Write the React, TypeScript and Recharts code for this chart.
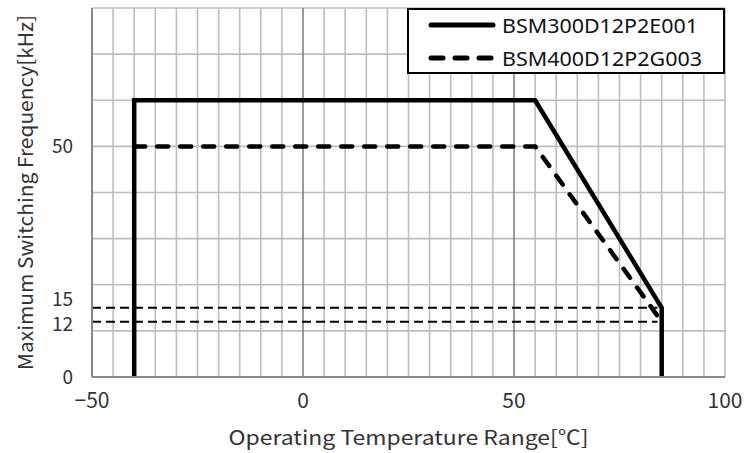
import React from "react";
import { LineChart, Line, XAxis, YAxis, ReferenceLine } from "recharts";

const series1Name = "BSM300D12P2E001";
const series2Name = "BSM400D12P2G003";

const series1 = [
  { x: -40, y: 0 },
  { x: -40, y: 60 },
  { x: 55, y: 60 },
  { x: 85, y: 15 },
  { x: 85, y: 0 },
];

const series2 = [
  { x: -40, y: 50 },
  { x: 55, y: 50 },
  { x: 85, y: 12 },
];

const xTicks = [-50, 0, 50, 100];
const yTicks = [0, 12, 15, 50];
const minorGridX = [-45, -40, -35, -30, -25, -20, -15, -10, -5, 5, 10, 15, 20, 25, 30, 35, 40, 45, 55, 60, 65, 70, 75, 80, 85, 90, 95, 100];
const majorGridX = [0, 50];
const gridY = [10, 20, 30, 40, 50, 60, 70, 80];
const refLevels = [15, 12];
const refEndX = 84;

const AXIS_FONT = "'Noto Sans CJK JP', 'Noto Sans', sans-serif";

const LegendBox = () => (
  <svg width={318} height={66} style={{ display: "block", position: "absolute", left: 407, top: 8 }}>
    <rect x={1} y={1} width={316} height={64} fill="#fff" stroke="#000" strokeWidth={2} />
    <line x1={24} y1={17} x2={86} y2={17} stroke="#000" strokeWidth={5} strokeLinecap="round" />
    <text x={95} y={25} fontSize={19} fontFamily="'Noto Sans', sans-serif" fill="#111" textLength={196} lengthAdjust="spacingAndGlyphs">
      {series1Name}
    </text>
    <line x1={24} y1={50} x2={88} y2={50} stroke="#000" strokeWidth={5} strokeLinecap="round" strokeDasharray="12 12" />
    <text x={95} y={58} fontSize={19} fontFamily="'Noto Sans', sans-serif" fill="#111" textLength={200} lengthAdjust="spacingAndGlyphs">
      {series2Name}
    </text>
  </svg>
);

const fmt = (v: number) => String(v).replace("-", "\u2212");

const YTick = (props: any) => {
  const { x, y, payload } = props;
  const shift = payload.value === 15 ? -9 : payload.value === 12 ? 3 : 0;
  return (
    <text
      x={x}
      y={y + shift}
      dy="0.355em"
      textAnchor="end"
      fontSize={19}
      fill="#333"
      fontFamily={AXIS_FONT}
    >
      {payload.value}
    </text>
  );
};

export default function App() {
  return (
    <div style={{ position: "absolute", left: 0, top: 0, width: 747, height: 453 }}>
      <LineChart width={747} height={453} margin={{ top: 8, right: 22, bottom: 0, left: 0 }}>
        <XAxis
          type="number"
          dataKey="x"
          domain={[-50, 100]}
          ticks={xTicks}
          interval={0}
          allowDataOverflow
          tickFormatter={fmt}
          tickLine={false}
          tickSize={6}
          tickMargin={10}
          axisLine={{ stroke: "#888", strokeWidth: 2 }}
          tick={{ fontSize: 21, fill: "#333", fontFamily: AXIS_FONT }}
          height={76}
          label={{
            value: "Operating Temperature Range[℃]",
            position: "insideBottom",
            offset: 8,
            fontSize: 20,
            fill: "#333",
            fontFamily: AXIS_FONT,
            textLength: 360,
            lengthAdjust: "spacingAndGlyphs",
          }}
        />
        <YAxis
          type="number"
          dataKey="y"
          domain={[0, 80]}
          ticks={yTicks}
          interval={0}
          allowDataOverflow
          tickLine={false}
          tickSize={6}
          tickMargin={13}
          axisLine={{ stroke: "#888", strokeWidth: 2 }}
          tick={<YTick />}
          width={92}
          label={{
            value: "Maximum Switching Frequency[kHz]",
            angle: -90,
            position: "insideLeft",
            offset: 26,
            fontSize: 20,
            fill: "#333",
            fontFamily: AXIS_FONT,
            textLength: 355,
            lengthAdjust: "spacingAndGlyphs",
            style: { textAnchor: "middle" },
          }}
        />
        {minorGridX.map((v) => (
          <ReferenceLine key={"gx" + v} x={v} stroke="#bdbdbd" strokeWidth={1.6} />
        ))}
        {gridY.map((v) => (
          <ReferenceLine key={"gy" + v} y={v} stroke="#bdbdbd" strokeWidth={1.6} />
        ))}
        {majorGridX.map((v) => (
          <ReferenceLine key={"mx" + v} x={v} stroke="#808080" strokeWidth={1.6} />
        ))}
        {refLevels.map((v) => (
          <ReferenceLine
            key={"r" + v}
            segment={[
              { x: -50, y: v },
              { x: refEndX, y: v },
            ]}
            stroke="#000"
            strokeWidth={2}
            strokeDasharray="9 5"
          />
        ))}
        <Line
          data={series2}
          dataKey="y"
          name={series2Name}
          type="linear"
          stroke="#000"
          strokeWidth={4.5}
          strokeDasharray="11 12"
          strokeLinecap="round"
          dot={false}
          activeDot={false}
          isAnimationActive={false}
        />
        <Line
          data={series1}
          dataKey="y"
          name={series1Name}
          type="linear"
          stroke="#000"
          strokeWidth={4.5}
          strokeLinejoin="miter"
          dot={false}
          activeDot={false}
          isAnimationActive={false}
        />
      </LineChart>
      <LegendBox />
    </div>
  );
}
